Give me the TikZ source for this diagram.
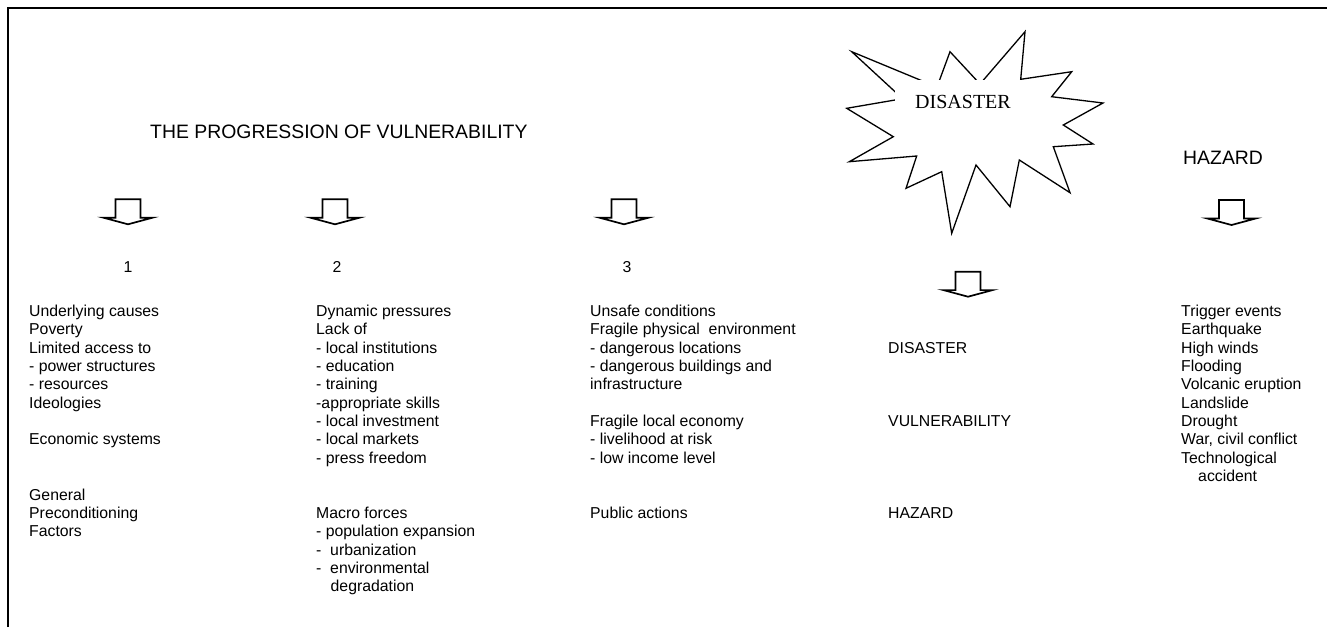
\documentclass[tikz,border=0pt]{standalone}
\usepackage{fontspec}
\setmainfont{Liberation Sans}
\newfontfamily\seriffont{Liberation Serif}
\begin{document}
\begin{tikzpicture}[x=1pt,y=-1pt,
  txt/.style={anchor=base west,inner sep=0pt,font=\fontsize{15.8}{18.35}\selectfont},
  big/.style={anchor=base west,inner sep=0pt,font=\fontsize{19.4}{22}\selectfont},
  arrline/.style={line width=1.7pt,line join=miter},
  starline/.style={line width=1.3pt,line join=miter},
  downarr/.pic={\draw[arrline] (-12.5,0) -- (12.5,0) -- (12.5,18.4) -- (24.5,18.4) -- (0,25) -- (-24.5,18.4) -- (-12.5,18.4) -- cycle;}
]
\useasboundingbox (0,0) rectangle (1327,627);
% frame
\draw[line width=1.8pt] (8,627) -- (8,8.3) -- (1327,8.3);
% star
\draw[starline] (846.7,108.3) -- (902.6,98.7) -- (851.7,51.7) -- (937,87) -- (950,51.7) -- (980,84)
  -- (1025,31.7) -- (1020.7,79.3) -- (1071.7,71.7) -- (1051.7,96.7) -- (1103,103) -- (1063.3,125)
  -- (1093,144) -- (1053.3,146.7) -- (1070,192.7) -- (1019.3,160) -- (1010,206.7) -- (976,165)
  -- (951.7,233.3) -- (941.7,171.7) -- (906,188.3) -- (916.7,156) -- (849.3,161.7) -- (893.3,136.7) -- cycle;
\node[fill=white,inner sep=0pt,minimum width=151pt,minimum height=42pt] (disbox) at (970.5,101) {};
\node[anchor=base,inner sep=0pt,font=\seriffont\fontsize{20}{24}\selectfont] (dis) at (963,108) {DISASTER};
% titles
\node[big] (title) at (150,138) {THE PROGRESSION OF VULNERABILITY};
\node[big] (haz) at (1183,164) {HAZARD};
% arrows
\pic (a1) at (128,199.3) {downarr};
\pic (a2) at (335,199.3) {downarr};
\pic (a3) at (624,199.3) {downarr};
\pic (a4) at (968,271.7) {downarr};
\pic (a5) at (1231.5,200) {downarr};
% numbers
\node[txt,anchor=base] (n1) at (128,272.7) {1};
\node[txt,anchor=base] (n2) at (337,272.7) {2};
\node[txt,anchor=base] (n3) at (627,272.7) {3};
% columns
\foreach \i/\t in {0/Underlying causes,1/Poverty,2/Limited access to,3/- power structures,4/- resources,5/Ideologies,7/Economic systems,10/General,11/Preconditioning,12/Factors}
  \node[txt] (ca\i) at (29,316.5+18.35*\i) {\t};
\foreach \i/\t in {0/Dynamic pressures,1/Lack of,2/- local institutions,3/- education,4/- training,5/-appropriate skills,6/- local investment,7/- local markets,8/- press freedom,11/Macro forces,12/- population expansion,13/-\ \ urbanization,14/-\ \ environmental,15/\hspace{14.5pt}degradation}
  \node[txt] (cb\i) at (316,316.5+18.35*\i) {\t};
\foreach \i/\t in {0/Unsafe conditions,1/Fragile physical\ \ environment,2/- dangerous locations,3/- dangerous buildings and,4/infrastructure,6/Fragile local economy,7/- livelihood at risk,8/- low income level,11/Public actions}
  \node[txt] (cc\i) at (590,316.5+18.35*\i) {\t};
\foreach \i/\t in {2/DISASTER,6/VULNERABILITY,11/HAZARD}
  \node[txt] (cd\i) at (888,316.5+18.35*\i) {\t};
\foreach \i/\t in {0/Trigger events,1/Earthquake,2/High winds,3/Flooding,4/Volcanic eruption,5/Landslide,6/Drought,7/{War, civil conflict},8/Technological,9/\hspace{17pt}accident}
  \node[txt] (ce\i) at (1181,316.5+18.35*\i) {\t};
\end{tikzpicture}
\end{document}
